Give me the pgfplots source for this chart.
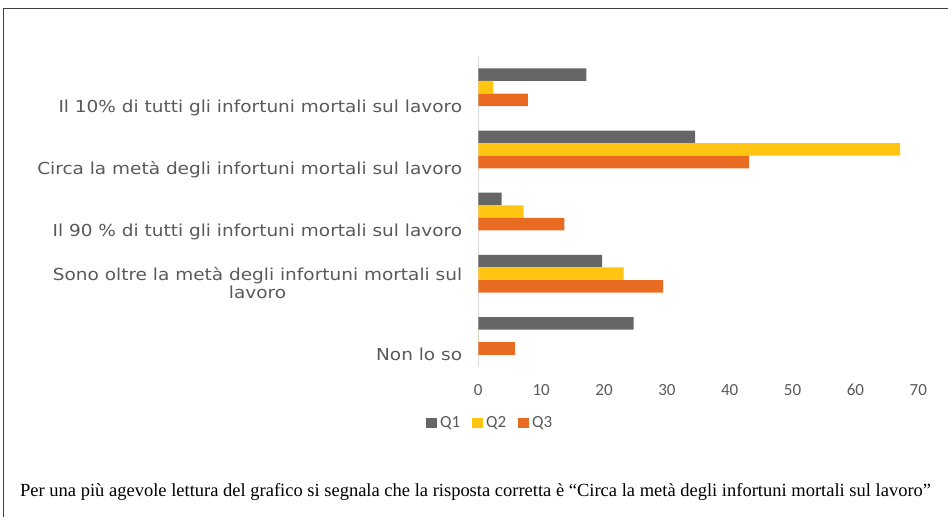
\documentclass[border=0pt]{standalone}
\usepackage{pgfplots}
\pgfplotsset{compat=1.18}
\usepackage{fontspec}
\setmainfont{Liberation Serif}
\newfontfamily\labelfont[FakeStretch=1.12]{DejaVu Sans}
\newfontfamily\tickfont{Carlito}
\definecolor{cQone}{HTML}{666666}
\definecolor{cQtwo}{HTML}{FFC511}
\definecolor{cQthree}{HTML}{E96B22}
\definecolor{txt}{HTML}{595959}
\definecolor{axl}{HTML}{D9D9D9}
\definecolor{frm}{HTML}{404040}
\begin{document}
\begin{tikzpicture}[x=1pt,y=1pt]
\useasboundingbox (0,0) rectangle (948,517);
\draw[frm, line width=1pt] (3,0) -- (3,508.5) -- (948,508.5);
\begin{axis}[
  at={(478.3pt,150pt)}, anchor=south west,
  scale only axis, width=440pt, height=310.8pt,
  xmin=0, xmax=70, ymin=-0.5, ymax=4.5, y dir=reverse,
  xbar=0pt, bar width=12.57pt,
  axis x line*=bottom, axis y line*=left,
  x axis line style={draw=none},
  y axis line style={draw=axl, line width=1pt},
  major tick length=0pt,
  xtick={0,10,...,70},
  ytick={0,1,2,3,4},
  yticklabels={{Il 10\% di tutti gli infortuni mortali sul lavoro},
    {Circa la metà degli infortuni mortali sul lavoro},
    {Il 90 \% di tutti gli infortuni mortali sul lavoro},
    {\begin{tabular}[b]{@{}c@{}}Sono oltre la metà degli infortuni mortali sul\\lavoro\end{tabular}},
    {Non lo so}},
  yticklabel style={anchor=base east, inner sep=0pt, xshift=-16pt, yshift=-25pt,
    font=\labelfont\fontsize{16.5}{18.5}\selectfont, text=txt},
  xticklabel style={anchor=center, inner sep=0pt, yshift=-23pt,
    font=\tickfont\fontsize{17}{20}\selectfont, text=txt},
  /pgf/number format/assume math mode=true,
  legend columns=3,
  legend style={draw=none, fill=none, at={(rel axis cs:-0.119,-0.180)}, anchor=west,
    inner sep=0pt, font=\tickfont\fontsize{17}{20}\selectfont, text=txt,
    /tikz/every even column/.append style={column sep=11pt},
    nodes={inner sep=1pt}},
  legend image code/.code={\fill[#1,draw=none] (0pt,-5.25pt) rectangle (10.5pt,5.25pt); \path (13pt,0pt);},
]
\addplot[fill=cQone, draw=none, bar shift=12.57pt] coordinates {(17.2,0) (34.5,1) (3.7,2) (19.7,3) (24.7,4)};
\addplot[fill=cQtwo, draw=none, bar shift=0pt] coordinates {(2.4,0) (67.1,1) (7.2,2) (23.1,3) (0,4)};
\addplot[fill=cQthree, draw=none, bar shift=-12.57pt] coordinates {(7.9,0) (43.1,1) (13.7,2) (29.4,3) (5.8,4)};
\legend{Q1,Q2,Q3}
\end{axis}
\node[anchor=base west, inner sep=0pt, font=\fontsize{18.5}{22}\selectfont] at (20,21)
  {Per una più agevole lettura del grafico si segnala che la risposta corretta è “Circa la metà degli infortuni mortali sul lavoro”};
\end{tikzpicture}
\end{document}
